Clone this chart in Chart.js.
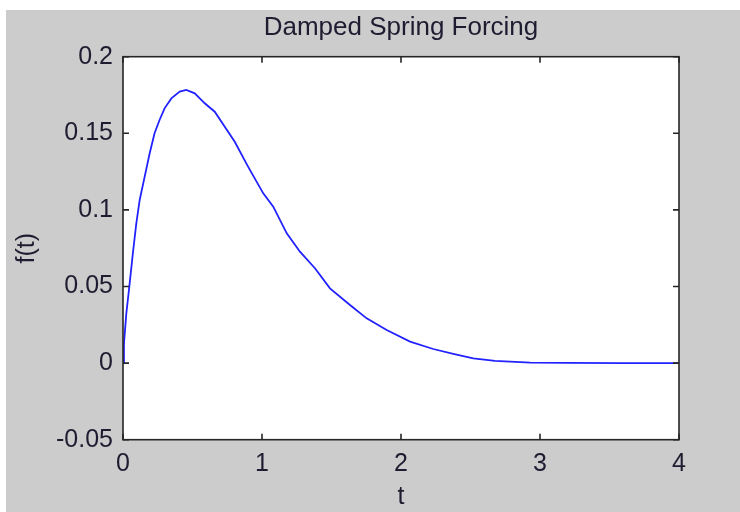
<!DOCTYPE html>
<html>
<head>
<meta charset="utf-8">
<script src="https://cdn.jsdelivr.net/npm/chart.js@4/dist/chart.umd.min.js"></script>
<style>
  html, body { margin: 0; padding: 0; background: #ffffff; }
  #wrap { position: absolute; left: 6px; top: 10px; width: 734px; height: 502px; background: #cccccc; }
  canvas { display: block; }
</style>
</head>
<body>
<div id="wrap"><canvas id="c" width="734" height="502"></canvas></div>
<script>
// ---- data ----
const tValues = [0, 0.007, 0.024, 0.048, 0.071, 0.096, 0.12, 0.156, 0.192, 0.227, 0.263, 0.299, 0.348, 0.408, 0.456, 0.516, 0.588, 0.66, 0.732, 0.804, 0.887, 0.914, 1.009, 1.081, 1.178, 1.273, 1.381, 1.489, 1.633, 1.753, 1.897, 2.065, 2.232, 2.376, 2.52, 2.676, 2.93, 3.2, 3.6, 4.0];
const fValues = [0, 0.0129, 0.0325, 0.052, 0.0717, 0.0913, 0.1065, 0.1217, 0.137, 0.150, 0.1587, 0.1663, 0.1728, 0.1772, 0.1783, 0.1761, 0.1696, 0.1641, 0.1543, 0.1445, 0.1304, 0.1260, 0.1108, 0.1021, 0.0847, 0.0727, 0.0619, 0.0488, 0.0379, 0.0292, 0.0216, 0.0140, 0.0092, 0.0061, 0.0031, 0.0014, 0.0003, 0.0001, 0.0, 0.0];
const xTickValues = [0, 1, 2, 3, 4];
const xTickLabels = ['0', '1', '2', '3', '4'];
const yTickValues = [-0.05, 0, 0.05, 0.1, 0.15, 0.2];
const yTickLabels = ['-0.05', '0', '0.05', '0.1', '0.15', '0.2'];
const titleText = 'Damped Spring Forcing';
const xLabel = 't';
const yLabel = 'f(t)';

const points = tValues.map((t, i) => ({ x: t, y: fValues[i] }));
const FONT = "'Liberation Sans', Arial, sans-serif";
const TXT = '#1e1c30';

const frame = {
  id: 'frame',
  beforeDatasetsDraw(chart) {
    const { ctx, chartArea: a } = chart;
    ctx.save();
    ctx.fillStyle = '#ffffff';
    ctx.fillRect(a.left, a.top, a.right - a.left, a.bottom - a.top);
    ctx.restore();
  },
  afterDatasetsDraw(chart) {
    const { ctx, chartArea: a, scales } = chart;
    const L = 6;
    ctx.save();
    ctx.strokeStyle = '#262626';
    ctx.lineWidth = 1.6;
    ctx.strokeRect(a.left, a.top, a.right - a.left, a.bottom - a.top);
    ctx.beginPath();
    xTickValues.forEach(v => {
      const px = scales.x.getPixelForValue(v);
      ctx.moveTo(px, a.bottom); ctx.lineTo(px, a.bottom - L);
      ctx.moveTo(px, a.top); ctx.lineTo(px, a.top + L);
    });
    yTickValues.forEach(v => {
      const py = scales.y.getPixelForValue(v);
      ctx.moveTo(a.left, py); ctx.lineTo(a.left + L, py);
      ctx.moveTo(a.right, py); ctx.lineTo(a.right - L, py);
    });
    ctx.stroke();
    ctx.restore();
  }
};

new Chart(document.getElementById('c'), {
  type: 'line',
  data: {
    datasets: [{
      data: points,
      borderColor: '#2222ff',
      borderWidth: 1.8,
      pointRadius: 0,
      tension: 0,
      fill: false,
      xAxisID: 'x',
      yAxisID: 'y'
    }]
  },
  options: {
    responsive: false,
    animation: false,
    events: [],
    layout: { padding: { left: 0, right: 61, top: 0, bottom: 0 } },
    plugins: { legend: { display: false }, title: { display: false }, tooltip: { enabled: false } },
    scales: {
      x: {
        type: 'linear', position: 'bottom', min: 0, max: 4,
        afterBuildTicks: s => { s.ticks = xTickValues.map(v => ({ value: v })); },
        afterFit: s => { s.height = 72.3; },
        grid: { display: false, drawTicks: false },
        border: { display: false },
        ticks: {
          padding: 9, color: TXT, maxRotation: 0, autoSkip: false,
          font: { family: FONT, size: 25 },
          callback: (v, i) => xTickLabels[i]
        },
        title: { display: true, text: xLabel, color: TXT, font: { family: FONT, size: 25 }, padding: { top: 0, bottom: 0 } }
      },
      xTop: {
        type: 'linear', position: 'top', min: 0, max: 4,
        afterFit: s => { s.height = 46.7; },
        grid: { display: false, drawTicks: false },
        border: { display: false },
        ticks: { display: false },
        title: { display: true, text: titleText, color: TXT, font: { family: FONT, size: 26 }, padding: { top: 2, bottom: 0 } }
      },
      y: {
        type: 'linear', position: 'left', min: -0.05, max: 0.2,
        afterBuildTicks: s => { s.ticks = yTickValues.map(v => ({ value: v })); },
        afterFit: s => { s.width = 117; },
        grid: { display: false, drawTicks: false },
        border: { display: false },
        ticks: {
          padding: 10, color: TXT, autoSkip: false,
          font: { family: FONT, size: 25 },
          callback: (v, i) => yTickLabels[i]
        },
        title: { display: true, text: yLabel, color: TXT, font: { family: FONT, size: 25 }, padding: { top: 6, bottom: 0 } }
      }
    }
  },
  plugins: [frame]
});
</script>
</body>
</html>
